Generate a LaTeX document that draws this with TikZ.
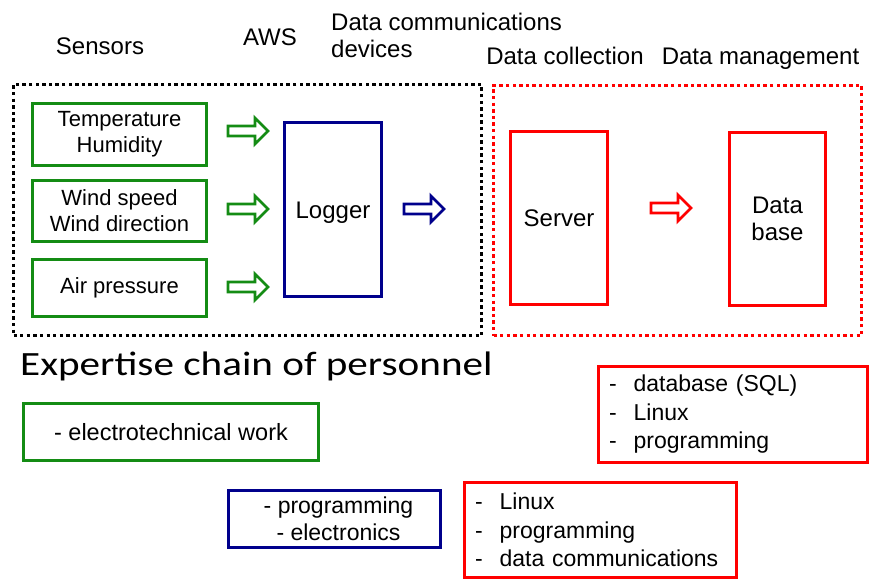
\documentclass[tikz,border=0pt]{standalone}
\usepackage{fontspec}
\setmainfont{Liberation Sans}
\newfontfamily\titlefont[FakeStretch=1.21]{Carlito}
\usetikzlibrary{calc}
\definecolor{grn}{RGB}{20,140,20}
\definecolor{nvy}{RGB}{0,0,140}
\definecolor{rd}{RGB}{255,0,0}
\tikzset{
  box/.style={draw, line width=3pt, inner sep=0pt, align=center, text=black},
  sbox/.style={box, draw=grn, minimum width=174pt, font=\fontsize{22}{26}\selectfont},
  tallbox/.style={box, minimum width=97pt, minimum height=174pt, font=\fontsize{24}{27}\selectfont},
  dotbox/.style={draw, line width=3.2pt, dash pattern=on 3.3pt off 3.3pt, inner sep=0pt},
  hdr/.style={anchor=base, inner sep=0pt, font=\fontsize{24}{27}\selectfont},
  listbox/.style={box, draw=rd, align=left, inner xsep=10.5pt, font=\fontsize{23}{28.5}\selectfont},
  pics/blockarrow/.style={code={
    \draw[line width=2.8pt, fill=white, line join=miter, miter limit=4]
      (0,-5) -- (27,-5) -- (27,-13) -- (40,0) -- (27,13) -- (27,5) -- (0,5) -- cycle;}}
}
\begin{document}
\begin{tikzpicture}[x=1pt,y=-1pt]
\useasboundingbox (0,0) rectangle (870,581);
% headers
\node[hdr] (hsens) at (100,54) {Sensors};
\node[hdr] (haws) at (270,45) {AWS};
\node[anchor=base west, inner sep=0pt, align=left, font=\fontsize{24}{27}\selectfont] (hcomm) at (331,57) {Data communications\\devices};
\node[hdr] (hcoll) at (565,64.5) {Data collection};
\node[hdr] (hmgmt) at (760.5,64.5) {Data management};
% dotted frames
\node[dotbox, draw=black, minimum width=468pt, minimum height=251pt] (aws) at (247.5,210) {};
\node[dotbox, draw=rd, minimum width=368pt, minimum height=250pt] (dc) at (677.5,210.5) {};
% sensors
\node[sbox, minimum height=62pt] (s1) at (119.5,134.5) {Temperature\\Humidity};
\node[sbox, minimum height=61pt] (s2) at (119.5,211) {Wind speed\\Wind direction};
\node[sbox, minimum height=57pt] (s3) at (119.5,288) {Air pressure};
% main boxes
\node[tallbox, draw=nvy, text height=23pt, text depth=5pt] (logger) at (333,209.5) {Logger};
\node[tallbox, draw=rd, minimum height=173pt, text height=21pt, text depth=5pt] (server) at (559,218) {Server};
\node[tallbox, draw=rd, minimum width=96pt, minimum height=173pt] (db) at (777.5,219) {Data\\base};
% block arrows
\pic[grn] at ($(s1.east)+(20,-3.5)$) {blockarrow};
\pic[grn] at ($(s2.east)+(20,-2)$) {blockarrow};
\pic[grn] at ($(s3.east)+(20,-1)$) {blockarrow};
\pic[nvy] at ($(logger.east)+(21,-0.5)$) {blockarrow};
\pic[rd] at ($(server.east)+(42,-10)$) {blockarrow};
% expertise
\node[anchor=base west, inner sep=0pt, font=\titlefont\fontsize{34}{40}\selectfont] (title) at (20,375) {Expertise chain of personnel};
\node[box, draw=grn, minimum width=295pt, minimum height=57pt, font=\fontsize{23.5}{28}\selectfont] (e1) at (171,432) {- electrotechnical work};
\node[box, draw=nvy, minimum width=212pt, minimum height=57pt, font=\fontsize{23}{27}\selectfont] (e2) at (334.5,519) {\hspace*{8pt}- programming\\\hspace*{8pt}- electronics};
\node[listbox, text width=248pt, minimum height=96pt] (e3) at (733,414.5) {-\hspace{17pt}database (SQL)\\-\hspace{17pt}Linux\\-\hspace{17pt}programming};
\node[listbox, text width=251pt, minimum height=95pt] (e4) at (600.5,530) {-\hspace{17pt}Linux\\-\hspace{17pt}programming\\-\hspace{17pt}data communications};
\end{tikzpicture}
\end{document}
